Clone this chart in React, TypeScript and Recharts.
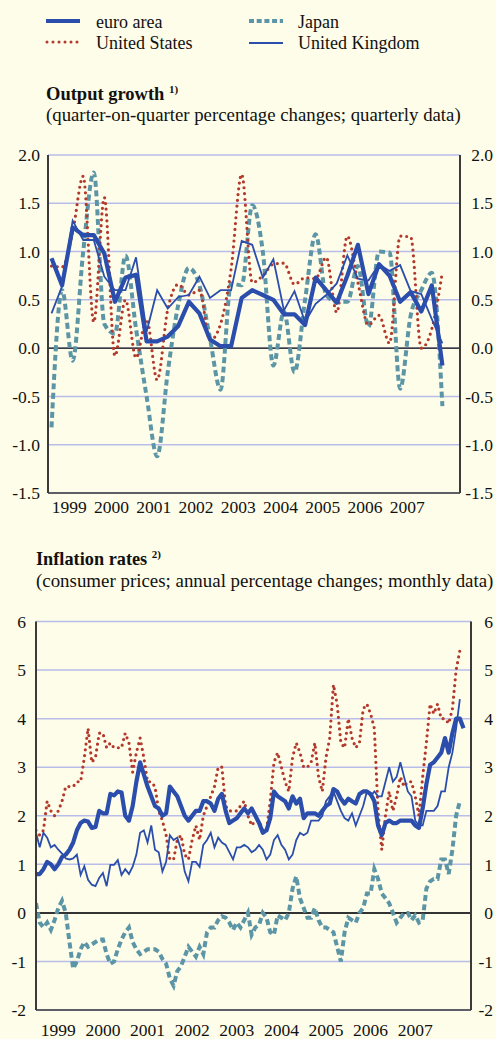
import React from 'react';
import { LineChart, Line, XAxis, YAxis, CartesianGrid, ReferenceLine } from 'recharts';

const FONT = '"Liberation Serif", "Times New Roman", Times, serif';
const BLUE = '#2b4ead';
const RED = '#b3392c';
const TEAL = '#5c96a6';
const GRID = '#b9bde9';
const AXIS = '#3a3a3a';
const BG = '#fefde9';

// ---------- Output growth (quarterly, 1999Q1 - 2008Q2) ----------
const quarterLabels = [
  '1999Q1', '1999Q2', '1999Q3', '1999Q4', '2000Q1', '2000Q2', '2000Q3', '2000Q4',
  '2001Q1', '2001Q2', '2001Q3', '2001Q4', '2002Q1', '2002Q2', '2002Q3', '2002Q4',
  '2003Q1', '2003Q2', '2003Q3', '2003Q4', '2004Q1', '2004Q2', '2004Q3', '2004Q4',
  '2005Q1', '2005Q2', '2005Q3', '2005Q4', '2006Q1', '2006Q2', '2006Q3', '2006Q4',
  '2007Q1', '2007Q2', '2007Q3', '2007Q4', '2008Q1', '2008Q2',
];
const euroQ = [0.93, 0.65, 1.25, 1.17, 1.17, 0.98, 0.48, 0.73, 0.76, 0.07, 0.07, 0.12, 0.23, 0.48, 0.36, 0.09, 0.02, 0.02, 0.52, 0.6, 0.55, 0.5, 0.35, 0.35, 0.24, 0.73, 0.6, 0.47, 0.75, 1.07, 0.56, 0.87, 0.75, 0.48, 0.58, 0.38, 0.65, -0.18];
const usQ = [0.85, 0.84, 1.2, 1.78, 0.27, 1.56, -0.08, 0.5, -0.1, 0.3, -0.33, 0.4, 0.66, 0.55, 0.6, 0.08, 0.25, 0.82, 1.8, 0.68, 0.75, 0.87, 0.88, 0.66, 0.73, 0.72, 0.94, 0.37, 1.16, 0.68, 0.24, 0.34, 0.05, 1.16, 1.15, 0.0, 0.2, 0.79];
const japanQ = [-0.82, 0.6, -0.13, 1.0, 1.82, 0.25, 0.15, 0.96, 0.2, -0.5, -1.12, -0.25, 0.45, 0.83, 0.65, 0.1, -0.43, 0.67, 0.65, 1.48, 1.0, -0.18, 0.38, -0.25, 0.5, 1.18, 0.55, 0.48, 0.48, 0.85, 0.22, 1.0, 0.99, -0.42, 0.34, 0.6, 0.78, -0.6];
const ukQ = [0.36, 0.64, 1.32, 1.12, 1.12, 0.74, 0.6, 0.6, 0.94, 0.17, 0.6, 0.41, 0.53, 0.55, 0.74, 0.52, 0.6, 0.6, 1.11, 1.07, 0.73, 0.92, 0.39, 0.59, 0.27, 0.46, 0.55, 0.67, 0.96, 0.72, 0.7, 0.87, 0.8, 0.86, 0.59, 0.56, 0.3, 0.05];
const growthTicks = [-1.5, -1.0, -0.5, 0.0, 0.5, 1.0, 1.5, 2.0];

// ---------- Inflation rates (monthly, Jan 1999 - Aug 2008) ----------
const euroM = [
  0.8, 0.8, 0.9, 1.05, 1.0, 0.9, 1.0, 1.15, 1.2, 1.3, 1.45, 1.7,
  1.85, 1.9, 1.88, 1.75, 1.77, 2.1, 2.05, 2.05, 2.45, 2.42, 2.5, 2.48,
  2.0, 1.9, 2.2, 2.7, 3.1, 2.85, 2.6, 2.4, 2.2, 2.15, 2.0, 2.05,
  2.6, 2.5, 2.4, 2.2, 2.0, 1.9, 2.0, 2.1, 2.1, 2.3, 2.3, 2.25,
  2.1, 2.35, 2.45, 2.1, 1.85, 1.9, 1.95, 2.05, 2.15, 2.05, 2.15, 2.0,
  1.85, 1.65, 1.7, 1.95, 2.5, 2.4, 2.35, 2.3, 2.15, 2.4, 2.25, 2.35,
  1.95, 2.05, 2.05, 2.05, 2.0, 2.1, 2.2, 2.25, 2.55, 2.5, 2.35, 2.25,
  2.35, 2.3, 2.25, 2.45, 2.5, 2.5, 2.45, 2.3, 1.8, 1.6, 1.85, 1.9,
  1.85, 1.85, 1.9, 1.9, 1.9, 1.9, 1.8, 1.75, 2.15, 2.65, 3.05, 3.1,
  3.2, 3.3, 3.6, 3.3, 3.7, 4.0, 4.0, 3.8,
];
const usM = [
  1.7, 1.6, 1.7, 2.3, 2.1, 2.0, 2.1, 2.3, 2.6, 2.6, 2.6, 2.7,
  2.7, 3.2, 3.8, 3.1, 3.2, 3.7, 3.7, 3.4, 3.5, 3.4, 3.4, 3.4,
  3.7, 3.5, 2.9, 3.3, 3.6, 3.2, 2.7, 2.7, 2.6, 2.1, 1.9, 1.6,
  1.1, 1.1, 1.5, 1.6, 1.2, 1.1, 1.5, 1.8, 1.5, 2.0, 2.2, 2.4,
  2.6, 3.0, 3.0, 2.2, 2.1, 2.1, 2.1, 2.2, 2.3, 2.0, 1.8, 1.9,
  1.9, 1.7, 1.7, 2.3, 3.1, 3.3, 3.0, 2.7, 2.5, 3.2, 3.5, 3.3,
  3.0, 3.0, 3.1, 3.5, 2.8, 2.5, 3.2, 3.6, 4.7, 4.3, 3.5, 3.4,
  4.0, 3.6, 3.4, 3.5, 4.2, 4.3, 4.1, 3.8, 2.1, 1.3, 2.0, 2.5,
  2.1, 2.4, 2.8, 2.6, 2.7, 2.7, 2.4, 2.0, 2.8, 3.5, 4.3, 4.1,
  4.3, 4.0, 4.0, 3.9, 4.2, 5.0, 5.4,
];
const japanM = [
  0.2, -0.2, -0.3, -0.2, -0.35, -0.15, 0.1, 0.25, 0.0, -0.6, -1.15, -1.0,
  -0.75, -0.6, -0.7, -0.65, -0.6, -0.55, -0.55, -0.85, -1.05, -1.0, -0.75, -0.55,
  -0.4, -0.3, -0.6, -0.75, -0.85, -0.8, -0.75, -0.75, -0.75, -0.8, -0.95, -1.05,
  -1.35, -1.5, -1.2, -1.1, -0.9, -0.7, -0.8, -0.9, -0.7, -0.85, -0.4, -0.3,
  -0.3, -0.15, -0.07, -0.1, -0.2, -0.35, -0.2, -0.3, -0.15, 0.0, -0.45, -0.3,
  -0.25, 0.0, -0.1, -0.4, -0.45, -0.05, -0.1, -0.15, 0.0, 0.5, 0.75, 0.3,
  0.1, -0.1, -0.1, 0.1, -0.15, -0.3, -0.3, -0.35, -0.4, -0.7, -1.0, -0.4,
  -0.1, -0.15, -0.2, 0.0, 0.1, 0.4, 0.4, 0.9, 0.7, 0.4, 0.3, 0.2,
  0.0, -0.2, -0.1, 0.0, 0.0, -0.15, -0.05, -0.2, -0.15, 0.5, 0.65, 0.7,
  0.7, 1.1, 1.1, 0.8, 1.3, 2.0, 2.3,
];
const ukM = [
  1.65, 1.35, 1.65, 1.55, 1.35, 1.4, 1.3, 1.22, 1.12, 1.1, 1.12, 1.2,
  0.78, 0.96, 0.68, 0.58, 0.55, 0.72, 0.82, 0.55, 0.99, 0.99, 1.09, 0.78,
  0.9, 0.8, 0.95, 1.2, 1.65, 1.7, 1.45, 1.8, 1.3, 1.25, 0.85, 1.05,
  1.6, 1.5, 1.55, 1.3, 0.85, 0.65, 1.05, 1.05, 0.95, 1.4, 1.5, 1.65,
  1.35, 1.55, 1.45, 1.4, 1.25, 1.1, 1.35, 1.35, 1.4, 1.35, 1.25, 1.3,
  1.4, 1.3, 1.1, 1.2, 1.5, 1.6, 1.4, 1.3, 1.1, 1.2, 1.5, 1.65,
  1.6, 1.65, 1.9, 1.9, 1.9, 2.0, 2.3, 2.4, 2.5, 2.3, 2.1, 1.95,
  1.9, 2.05, 1.8, 2.0, 2.2, 2.5, 2.4, 2.5, 2.4, 2.4, 2.7, 3.0,
  2.7, 2.8, 3.1, 2.8, 2.5, 2.4, 1.9, 1.8, 1.8, 2.1, 2.1, 2.1,
  2.2, 2.5, 2.5, 3.0, 3.3, 3.8, 4.4,
];
const inflationTicks = [-2, -1, 0, 1, 2, 3, 4, 5, 6];

const yearBoundaries = [1999, 2000, 2001, 2002, 2003, 2004, 2005, 2006, 2007, 2008];
const yearLabels = ['1999', '2000', '2001', '2002', '2003', '2004', '2005', '2006', '2007'];
const xDomain: [number, number] = [1999, 2008.75];
const startYear = 1999;

// time positions (quarters placed at their middle month start, months at month start)
const growthData = quarterLabels.map((q, i) => ({
  t: Number(q.slice(0, 4)) + (Number(q.slice(5)) - 1) / 4 + 1 / 12,
  euro: euroQ[i],
  us: usQ[i],
  japan: japanQ[i],
  uk: ukQ[i],
}));
const inflationData = euroM.map((v, i) => ({
  t: startYear + i / 12,
  euro: v,
  us: usM[i],
  japan: japanM[i],
  uk: ukM[i],
}));
const yearMidTicks = yearLabels.map((y) => Number(y) + 0.5);

const tickStyle = { fontSize: 17.5, fontFamily: FONT, fill: '#111' };

const RightTick = (props: any) => {
  const { x, y, payload, digits } = props;
  const v = Number(payload.value);
  return (
    <text x={x} y={y} dy="0.355em" textAnchor="end" fontSize={17.5} fontFamily={FONT} fill="#111">
      {digits ? v.toFixed(digits) : String(v)}
    </text>
  );
};

function seriesLines(smoothTop: boolean) {
  const ctype = smoothTop ? 'monotone' : 'linear';
  return [
    <Line key="japan" dataKey="japan" type={ctype as any} stroke={TEAL} strokeWidth={4} strokeDasharray="6 3.5" dot={false} activeDot={false} isAnimationActive={false} />,
    <Line key="us" dataKey="us" type={ctype as any} stroke={RED} strokeWidth={3.2} strokeDasharray="0 5.8" strokeLinecap="round" dot={false} activeDot={false} isAnimationActive={false} />,
    <Line key="uk" dataKey="uk" type="linear" stroke={BLUE} strokeWidth={1.8} dot={false} activeDot={false} isAnimationActive={false} />,
    <Line key="euro" dataKey="euro" type="linear" stroke={BLUE} strokeWidth={4.2} strokeLinejoin="round" dot={false} activeDot={false} isAnimationActive={false} />,
  ];
}

export default function App() {
  return (
    <div style={{ position: 'absolute', left: 0, top: 0, width: 496, height: 1039, background: BG, overflow: 'hidden', fontFamily: FONT }}>
      <svg style={{ position: 'absolute', left: 0, top: 0 }} width={496} height={1039}>
        {/* legend */}
        <line x1={46} x2={80} y1={21} y2={21} stroke={BLUE} strokeWidth={4} />
        <line x1={47} x2={81} y1={42} y2={42} stroke={RED} strokeWidth={3} strokeDasharray="0 6" strokeLinecap="round" />
        <line x1={249} x2={283} y1={21} y2={21} stroke={TEAL} strokeWidth={4} strokeDasharray="5 2.7" />
        <line x1={249} x2={283} y1={43} y2={43} stroke={BLUE} strokeWidth={2} />
        <text x={96} y={28} fontSize={18} fontFamily={FONT} fill="#111">euro area</text>
        <text x={96} y={48.5} fontSize={18} fontFamily={FONT} fill="#111">United States</text>
        <text x={298} y={28} fontSize={18} fontFamily={FONT} fill="#111">Japan</text>
        <text x={298} y={48.5} fontSize={18} fontFamily={FONT} fill="#111">United Kingdom</text>
        {/* titles */}
        <text x={46} y={100} fontSize={18.5} fontFamily={FONT} fontWeight="bold" fill="#111">
          Output growth <tspan fontSize={11} dy={-7}>1)</tspan>
        </text>
        <text x={46} y={121} fontSize={18.8} fontFamily={FONT} fill="#111">(quarter-on-quarter percentage changes; quarterly data)</text>
        <text x={36} y={565} fontSize={18.3} fontFamily={FONT} fontWeight="bold" fill="#111">
          Inflation rates <tspan fontSize={11} dy={-7}>2)</tspan>
        </text>
        <text x={36} y={587} fontSize={18.9} fontFamily={FONT} fill="#111">(consumer prices; annual percentage changes; monthly data)</text>
      </svg>

      <div style={{ position: 'absolute', left: 0, top: 0 }}>
        <LineChart width={496} height={530} data={growthData} margin={{ top: 155, right: 0, left: 8, bottom: 6 }}>
          <CartesianGrid stroke={GRID} strokeWidth={1.5} />
          <XAxis dataKey="t" type="number" domain={xDomain} ticks={yearBoundaries} tick={false} tickSize={5} height={6}
            axisLine={{ stroke: AXIS, strokeWidth: 1.5 }} tickLine={{ stroke: AXIS, strokeWidth: 1.5 }} allowDataOverflow />
          <XAxis xAxisId="lab" dataKey="t" type="number" domain={xDomain} ticks={yearMidTicks} tickFormatter={(v: number) => String(Math.floor(v))}
            axisLine={false} tickLine={false} tickSize={0} tickMargin={2} height={25} tick={tickStyle} interval={0} allowDataOverflow />
          <YAxis type="number" domain={[-1.5, 2]} ticks={growthTicks} width={40} tickSize={0} tickMargin={8} interval={0}
            tickFormatter={(v: number) => v.toFixed(1)} tick={tickStyle} tickLine={false} axisLine={{ stroke: AXIS, strokeWidth: 2 }} allowDataOverflow />
          <YAxis yAxisId="r" orientation="right" type="number" domain={[-1.5, 2]} ticks={growthTicks} width={36} tickSize={0} tickMargin={33} interval={0}
            tick={(p: any) => <RightTick {...p} digits={1} />} tickLine={false} axisLine={{ stroke: AXIS, strokeWidth: 2 }} allowDataOverflow />
          <ReferenceLine y={0} stroke="#111" strokeWidth={1.3} />
          {seriesLines(true)}
        </LineChart>
      </div>

      <div style={{ position: 'absolute', left: 0, top: 540 }}>
        <LineChart width={496} height={499} data={inflationData} margin={{ top: 81.5, right: 0, left: 6, bottom: 0 }}>
          <CartesianGrid stroke={GRID} strokeWidth={1.5} />
          <XAxis dataKey="t" type="number" domain={xDomain} ticks={yearBoundaries} tick={false} tickSize={5} height={5}
            axisLine={{ stroke: AXIS, strokeWidth: 1.5 }} tickLine={{ stroke: AXIS, strokeWidth: 1.5 }} allowDataOverflow />
          <XAxis xAxisId="lab" dataKey="t" type="number" domain={xDomain} ticks={yearMidTicks} tickFormatter={(v: number) => String(Math.floor(v))}
            axisLine={false} tickLine={false} tickSize={0} tickMargin={9} height={24} tick={tickStyle} interval={0} allowDataOverflow />
          <YAxis type="number" domain={[-2, 6]} ticks={inflationTicks} width={30} tickSize={0} tickMargin={10} interval={0}
            tick={tickStyle} tickLine={false} axisLine={{ stroke: AXIS, strokeWidth: 2 }} allowDataOverflow />
          <YAxis yAxisId="r" orientation="right" type="number" domain={[-2, 6]} ticks={inflationTicks} width={25} tickSize={0} tickMargin={22} interval={0}
            tick={(p: any) => <RightTick {...p} digits={0} />} tickLine={false} axisLine={{ stroke: AXIS, strokeWidth: 2 }} allowDataOverflow />
          <ReferenceLine y={0} stroke="#333" strokeWidth={2} />
          {seriesLines(false)}
        </LineChart>
      </div>
    </div>
  );
}
